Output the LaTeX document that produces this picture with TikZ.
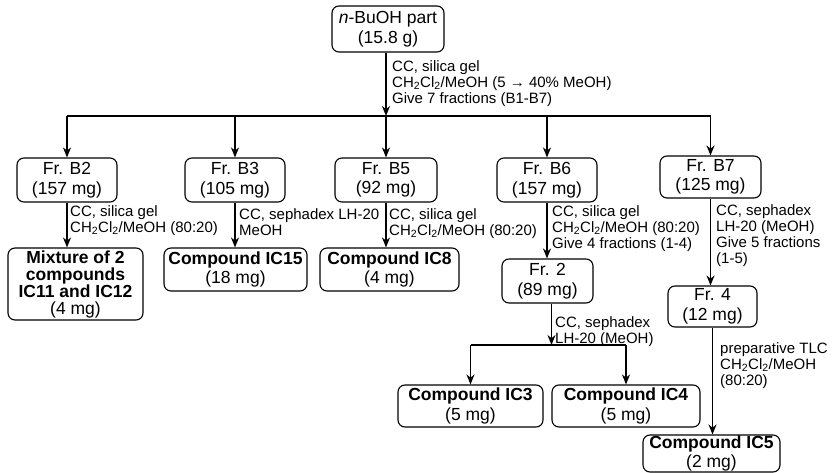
\documentclass[tikz,border=0pt]{standalone}
\usepackage{fontspec}
\setmainfont{Liberation Sans}
\usetikzlibrary{arrows.meta}
\begin{document}
\begin{tikzpicture}[x=1pt,y=-1pt,
  box/.style={draw, line width=1.1pt, rounded corners=7pt, align=center, inner sep=0pt,
              font=\fontsize{17.5}{19.5}\selectfont},
  lab/.style={anchor=north west, align=left, inner sep=0pt, font=\fontsize{15}{16}\selectfont},
  conn/.style={line width=1.6pt},
  arr/.style={conn, -{Stealth[length=10pt,width=8pt]}}]
\useasboundingbox (0,0) rectangle (832,473);

% boxes
\node[box, minimum width=112pt, minimum height=46pt] (top) at (388,29) {\textit{n}-BuOH part\\(15.8 g)};
\node[box, minimum width=100pt, minimum height=44pt] (b2) at (67,180) {Fr. B2\\(157 mg)};
\node[box, minimum width=100pt, minimum height=44pt] (b3) at (235,180) {Fr. B3\\(105 mg)};
\node[box, minimum width=102pt, minimum height=44pt] (b5) at (386,180) {Fr. B5\\(92 mg)};
\node[box, minimum width=100pt, minimum height=44pt] (b6) at (547,180) {Fr. B6\\(157 mg)};
\node[box, minimum width=101pt, minimum height=42pt] (b7) at (710.5,177) {Fr. B7\\(125 mg)};

\node[box, minimum width=135pt, minimum height=72pt, font=\fontsize{17.5}{17}\selectfont] (mix) at (75.5,284)
  {\textbf{Mixture of 2}\\\textbf{compounds}\\\textbf{IC11 and IC12}\\(4 mg)};
\node[box, minimum width=143pt, minimum height=43pt] (ic15) at (235.5,269.5) {\textbf{Compound IC15}\\(18 mg)};
\node[box, minimum width=139pt, minimum height=43pt] (ic8) at (389.5,269.5) {\textbf{Compound IC8}\\(4 mg)};
\node[box, minimum width=91pt, minimum height=44pt] (fr2) at (547.5,281) {Fr. 2\\(89 mg)};
\node[box, minimum width=89pt, minimum height=41pt] (fr4) at (712.5,306.5) {Fr. 4\\(12 mg)};
\node[box, minimum width=145pt, minimum height=42pt] (ic3) at (470.5,406) {\textbf{Compound IC3}\\(5 mg)};
\node[box, minimum width=148pt, minimum height=42pt] (ic4) at (626,406) {\textbf{Compound IC4}\\(5 mg)};
\node[box, minimum width=137pt, minimum height=37pt] (ic5) at (711.5,453.5) {\textbf{Compound IC5}\\(2 mg)};

% connectors
\coordinate (j1) at (386,116);
\draw[conn] (b2 |- j1) -- (b7 |- j1);
\draw[arr] (top.south -| j1) -- (j1);
\foreach \n in {b2,b3,b5,b6,b7} \draw[arr] (\n |- j1) -- (\n.north);
\draw[arr] (b2.south) -- (b2.south |- mix.north);
\draw[arr] (b3.south) -- (b3.south |- ic15.north);
\draw[arr] (b5.south) -- (b5.south |- ic8.north);
\draw[arr] (b6.south) -- (b6.south |- fr2.north);
\draw[arr] (b7.south) -- (b7.south |- fr4.north);
\coordinate (j2) at (551.5,345);
\draw[arr] (fr2.south -| j2) -- (j2);
\draw[conn] (ic3 |- j2) -- (ic4 |- j2);
\draw[arr] (ic3 |- j2) -- (ic3.north);
\draw[arr] (ic4 |- j2) -- (ic4.north);
\draw[arr] (fr4.south) -- (fr4.south |- ic5.north);

% labels
\node[lab] (l0) at (392,60) {CC, silica gel\\CH\textsubscript{2}Cl\textsubscript{2}/MeOH (5 → 40\% MeOH)\\Give 7 fractions (B1-B7)};
\node[lab] (l1) at (70,205) {CC, silica gel\\CH\textsubscript{2}Cl\textsubscript{2}/MeOH (80:20)};
\node[lab] (l2) at (239,208) {CC, sephadex LH-20\\MeOH};
\node[lab] (l3) at (389,208) {CC, silica gel\\CH\textsubscript{2}Cl\textsubscript{2}/MeOH (80:20)};
\node[lab] (l4) at (552,205) {CC, silica gel\\CH\textsubscript{2}Cl\textsubscript{2}/MeOH (80:20)\\Give 4 fractions (1-4)};
\node[lab] (l5) at (716,204) {CC, sephadex\\LH-20 (MeOH)\\Give 5 fractions\\(1-5)};
\node[lab] (l6) at (555,316) {CC, sephadex\\LH-20 (MeOH)};
\node[lab] (l7) at (720,342) {preparative TLC\\CH\textsubscript{2}Cl\textsubscript{2}/MeOH\\(80:20)};
\end{tikzpicture}
\end{document}
